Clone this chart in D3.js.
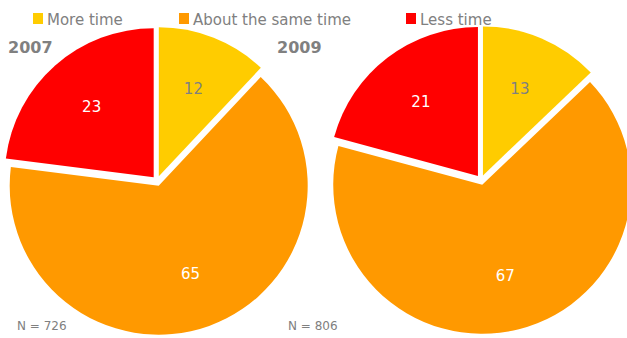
<!DOCTYPE html>
<html>
<head>
<meta charset="utf-8">
<script src="https://cdn.jsdelivr.net/npm/d3@7"></script>
<style>
  body { margin: 0; background: #fff; }
  svg { display: block; font-family: "DejaVu Sans", Verdana, sans-serif; }
</style>
</head>
<body>
<div id="chart"></div>
<script>
const categories = ["More time", "About the same time", "Less time"];
const colors = ["#FFCC00", "#FF9900", "#FF0000"];
const labelColors = ["#808080", "#ffffff", "#ffffff"];
const years = ["2007", "2009"];
const values2007 = [12, 65, 23];
const values2009 = [13, 67, 21];
const sampleSizes = [726, 806];

const W = 627, H = 338;
const svg = d3.select("#chart").append("svg").attr("width", W).attr("height", H);

// legend
const legendX = [33, 179, 406];
const legend = svg.append("g");
categories.forEach((c, i) => {
  legend.append("rect")
    .attr("x", legendX[i]).attr("y", 13)
    .attr("width", 10).attr("height", 11)
    .attr("fill", colors[i]);
  legend.append("text")
    .attr("x", legendX[i] + 14).attr("y", 24.5)
    .attr("font-size", "15px")
    .attr("fill", "#808080")
    .text(c);
});

const pies = [
  { year: years[0], values: values2007, n: sampleSizes[0], cx: 157, cy: 181, titleX: 8, nX: 17 },
  { year: years[1], values: values2009, n: sampleSizes[1], cx: 481, cy: 180, titleX: 277, nX: 288 }
];

const radius = 149;
const explode = 5;
const pie = d3.pie().sort(null).value(d => d);
const arc = d3.arc().innerRadius(0).outerRadius(radius);

pies.forEach(p => {
  const g = svg.append("g").attr("transform", `translate(${p.cx},${p.cy})`);
  const arcs = pie(p.values);

  const slice = g.selectAll("g.slice")
    .data(arcs)
    .enter()
    .append("g")
    .attr("class", "slice")
    .attr("transform", d => {
      const a = (d.startAngle + d.endAngle) / 2;
      return `translate(${Math.sin(a) * explode},${-Math.cos(a) * explode})`;
    });

  slice.append("path")
    .attr("d", arc)
    .attr("fill", (d, i) => colors[i]);

  slice.append("text")
    .attr("x", d => Math.sin((d.startAngle + d.endAngle) / 2) * radius * 0.63)
    .attr("y", d => -Math.cos((d.startAngle + d.endAngle) / 2) * radius * 0.63)
    .attr("dy", "0.35em")
    .attr("text-anchor", "middle")
    .attr("font-size", "15px")
    .attr("fill", (d, i) => labelColors[i])
    .text(d => d.data);

  svg.append("text")
    .attr("x", p.titleX).attr("y", 53)
    .attr("font-size", "16px")
    .attr("font-weight", "bold")
    .attr("fill", "#808080")
    .text(p.year);

  svg.append("text")
    .attr("x", p.nX).attr("y", 330)
    .attr("font-size", "12px")
    .attr("fill", "#808080")
    .text(`N = ${p.n}`);
});
</script>
</body>
</html>
